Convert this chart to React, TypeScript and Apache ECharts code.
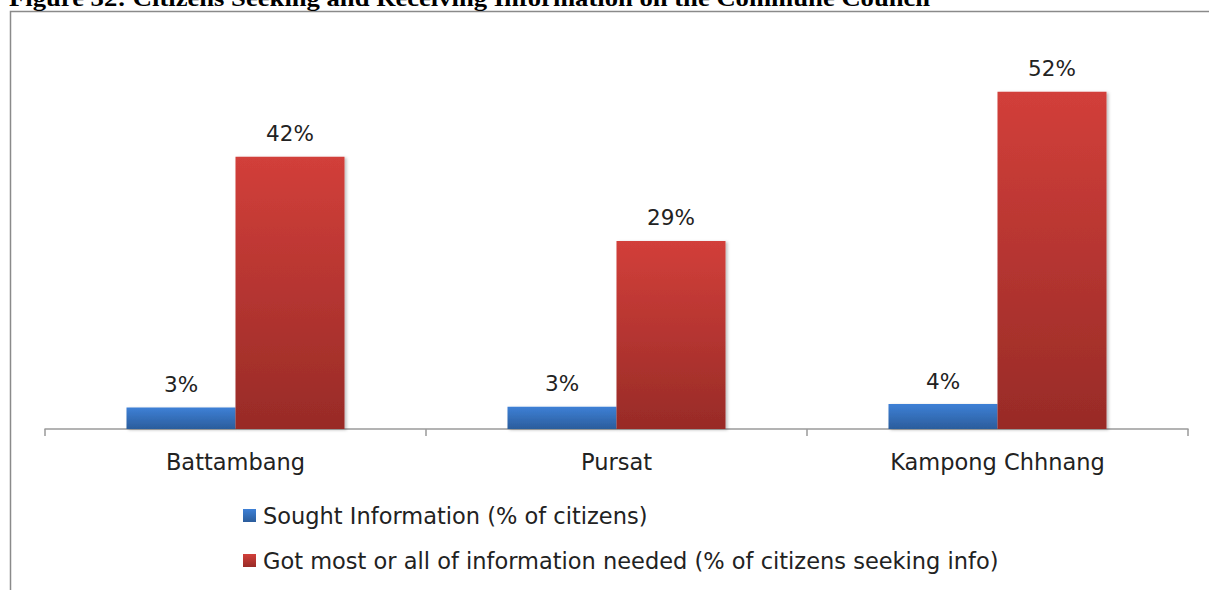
import React, { useEffect, useRef } from "react";
import * as echarts from "echarts";

const titleText = "Figure 32: Citizens Seeking and Receiving Information on the Commune Council";
const categories = ["Battambang", "Pursat", "Kampong Chhnang"];
const seriesNames = [
  "Sought Information (% of citizens)",
  "Got most or all of information needed (% of citizens seeking info)",
];
const soughtValues = [3.3, 3.45, 3.85];
const gotValues = [42, 29, 52];

const FONT = "'DejaVu Sans', sans-serif";

export default function App() {
  const ref = useRef<HTMLDivElement>(null);
  useEffect(() => {
    if (!ref.current) return;
    const chart = echarts.init(ref.current, undefined, { renderer: "svg" });
    const grad = (top: string, bottom: string) =>
      new echarts.graphic.LinearGradient(0, 0, 0, 1, [
        { offset: 0, color: top },
        { offset: 1, color: bottom },
      ]);
    const label = {
      show: true,
      position: "top",
      distance: 12,
      fontFamily: FONT,
      fontSize: 21.5,
      color: "#222",
      formatter: (p: any) => Math.round(p.value) + "%",
    };
    chart.setOption({
      animation: false,
      backgroundColor: "#fff",
      graphic: [
        {
          type: "rect",
          shape: { x: 10.5, y: 11.5, width: 1220, height: 600 },
          style: { fill: "none", stroke: "#8a8a8a", lineWidth: 1.5 },
          silent: true,
        },
        {
          type: "text",
          x: 9,
          y: -3,
          scaleX: 1.11,
          style: {
            text: titleText,
            font: "bold 24px 'Liberation Serif', 'Times New Roman', serif",
            fill: "#000",
            textVerticalAlign: "middle",
          },
          silent: true,
        },
      ],
      grid: { left: 45, right: 21, top: 40, bottom: 161, containLabel: false },
      legend: {
        orient: "vertical",
        left: 238,
        top: 499,
        itemWidth: 13,
        itemHeight: 13,
        itemGap: 22,
        icon: "rect",
        textStyle: {
          fontFamily: FONT,
          fontSize: 22.5,
          color: "#222",
          lineHeight: 22,
          padding: [0, 0, 0, 2],
        },
        data: seriesNames,
      },
      xAxis: {
        type: "category",
        data: categories,
        axisLine: { lineStyle: { color: "#9a9a9a", width: 1.5 } },
        axisTick: { show: true, length: 7, lineStyle: { color: "#9a9a9a", width: 1.5 } },
        axisLabel: { fontFamily: FONT, fontSize: 22.5, color: "#222", margin: 21 },
      },
      yAxis: {
        type: "value",
        min: 0,
        max: 60,
        show: false,
        splitLine: { show: false },
      },
      series: [
        {
          name: seriesNames[0],
          type: "bar",
          data: soughtValues,
          barWidth: 109,
          barGap: "0%",
          itemStyle: {
            color: grad("#3e80d6", "#2b5d9c"),
            shadowBlur: 3,
            shadowOffsetX: 2,
            shadowOffsetY: 1,
            shadowColor: "rgba(0,0,0,0.25)",
          },
          label,
        },
        {
          name: seriesNames[1],
          type: "bar",
          data: gotValues,
          barWidth: 109,
          barGap: "0%",
          itemStyle: {
            color: grad("#d23f3a", "#982b27"),
            shadowBlur: 3,
            shadowOffsetX: 2,
            shadowOffsetY: 1,
            shadowColor: "rgba(0,0,0,0.25)",
          },
          label,
        },
      ],
    });
    return () => chart.dispose();
  }, []);
  return (
    <div
      ref={ref}
      style={{ position: "absolute", left: 0, top: 0, width: 1209, height: 590, overflow: "hidden" }}
    />
  );
}
